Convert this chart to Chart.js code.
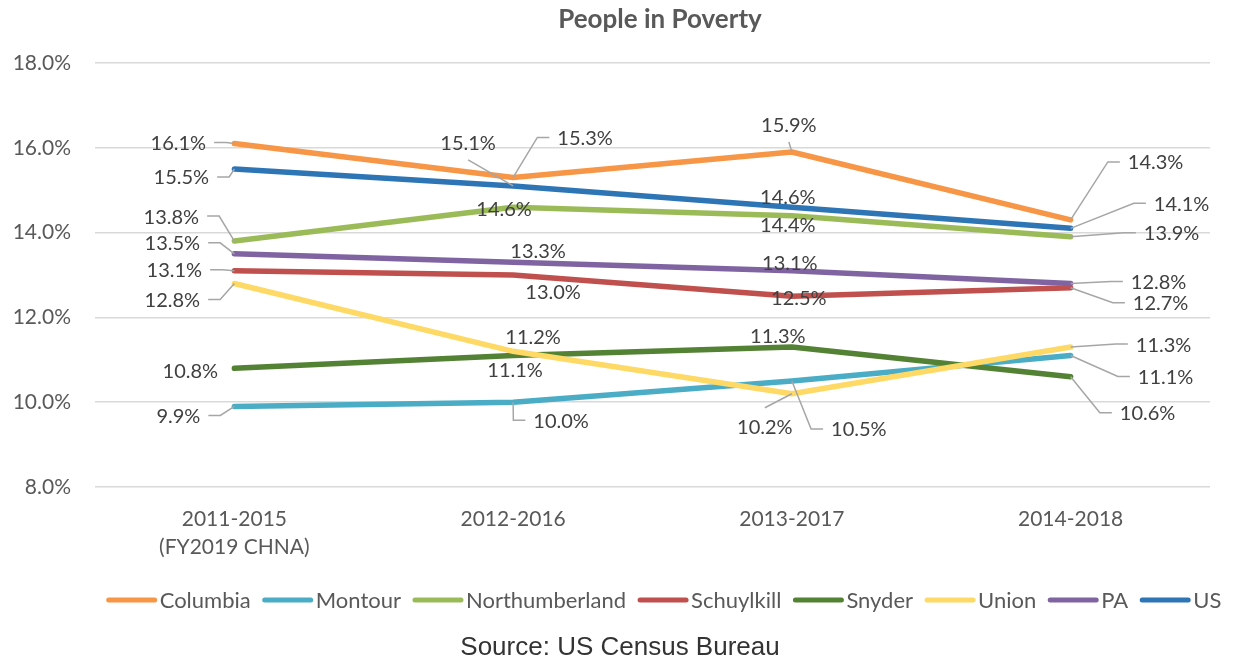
<!DOCTYPE html>
<html>
<head>
<meta charset="utf-8">
<script src="https://cdn.jsdelivr.net/npm/chart.js@4/dist/chart.umd.min.js"></script>
<style>
  html, body { margin: 0; padding: 0; background: #ffffff; }
  #wrap { width: 1233px; height: 665px; position: relative; }
</style>
</head>
<body>
<div id="wrap"><canvas id="c" width="1233" height="665"></canvas></div>
<script>
// ---- data ----
const categories = [['2011-2015', '(FY2019 CHNA)'], '2012-2016', '2013-2017', '2014-2018'];
const seriesNames = ['Columbia', 'Montour', 'Northumberland', 'Schuylkill', 'Snyder', 'Union', 'PA', 'US'];
const columbia = [16.1, 15.3, 15.9, 14.3];
const montour = [9.9, 10.0, 10.5, 11.1];
const northumberland = [13.8, 14.6, 14.4, 13.9];
const schuylkill = [13.1, 13.0, 12.5, 12.7];
const snyder = [10.8, 11.1, 11.3, 10.6];
const union = [12.8, 11.2, 10.2, 11.3];
const pa = [13.5, 13.3, 13.1, 12.8];
const us = [15.5, 15.1, 14.6, 14.1];
const yMin = 8, yMax = 18, yStep = 2;
const chartTitle = 'People in Poverty';
const sourceText = 'Source: US Census Bureau';

// ---- styles ----
const seriesValues = [columbia, montour, northumberland, schuylkill, snyder, union, pa, us];
const seriesColors = ['#F79646', '#4BACC6', '#9BBB59', '#C0504D', '#548235', '#FFD966', '#8064A2', '#2E75B6'];
// label placement: [dx, dy, leader] relative to point; leader: 'h' elbow, 'v' vertical, '' none
const labelLayout = [
  [[-56, -1, 'h'], [72, -40, 'h'], [-3, -27, 'v'], [85, -58, 'h']],
  [[-56, 9, 'h'], [48, 18, 'h'], [67, 48, 'h'], [95, 21, 'h']],
  [[-63, -25, 'h'], [-9, 1, ''], [-4, 9, ''], [101, -4, 'h']],
  [[-60, -1, 'h'], [40, 17, ''], [7, 1, ''], [90, 15, 'h']],
  [[-44, 2, ''], [2, 14, ''], [-14, -12, ''], [77, 36, 'h']],
  [[-62, 16, 'h'], [20, -15, ''], [-27, 33, 'v'], [93, -3, 'h']],
  [[-62, -11, 'h'], [25, -12, ''], [-2, -8, ''], [88, -2, 'h']],
  [[-53, 8, 'h'], [-45, -43, 'v'], [-4, -11, ''], [111, -25, 'h']]
];
const FONT = 'Lato';
const TEXT = '#595959';

const datasets = seriesNames.map((name, i) => ({
  label: name,
  data: seriesValues[i],
  borderColor: seriesColors[i],
  backgroundColor: seriesColors[i],
  borderWidth: 5.5,
  pointRadius: 0,
  pointHoverRadius: 0,
  tension: 0,
  borderCapStyle: 'round',
  borderJoinStyle: 'round',
  fill: false,
  order: seriesNames.length - i
}));

const labelPlugin = {
  id: 'labels',
  afterDatasetsDraw(chart) {
    const ctx = chart.ctx;
    ctx.save();
    ctx.font = '20px ' + FONT;
    ctx.textAlign = 'center';
    ctx.textBaseline = 'middle';
    chart.data.datasets.forEach((ds, i) => {
      const meta = chart.getDatasetMeta(i);
      meta.data.forEach((pt, j) => {
        const lay = labelLayout[i][j];
        const px = pt.x, py = pt.y;
        const lx = px + lay[0], ly = py + lay[1];
        const txt = ds.data[j].toFixed(1) + '%';
        const w = ctx.measureText(txt).width;
        if (lay[2]) {
          ctx.strokeStyle = '#A6A6A6';
          ctx.lineWidth = 1.5;
          ctx.beginPath();
          if (lay[2] === 'h') {
            const dir = lay[0] < 0 ? 1 : -1;
            const sx = lx + dir * (w / 2 + 8);
            const ex = sx + dir * 12;
            ctx.moveTo(sx, ly);
            ctx.lineTo(ex, ly);
            ctx.lineTo(px, py);
          } else {
            const sy = lay[1] < 0 ? ly + 17 : ly - 19;
            ctx.moveTo(lx, sy);
            ctx.lineTo(px, py);
          }
          ctx.stroke();
        }
        ctx.fillStyle = '#404040';
        ctx.fillText(txt, lx, ly + 1);
      });
    });
    ctx.restore();
  },
  afterDraw(chart) {
    const ctx = chart.ctx;
    ctx.save();
    // title
    ctx.font = 'bold 26px ' + FONT;
    ctx.fillStyle = TEXT;
    ctx.textAlign = 'center';
    ctx.textBaseline = 'middle';
    ctx.fillText(chartTitle, 660, 20);
    // legend
    ctx.font = '22px ' + FONT;
    const lineLen = 50, gapText = 3, gapItem = 12;
    const widths = chart.data.datasets.map(d => ctx.measureText(d.label).width);
    let total = 0;
    widths.forEach(w => total += lineLen + gapText + w + gapItem);
    total -= gapItem;
    let x = 664 - total / 2;
    const y = 600;
    ctx.textAlign = 'left';
    chart.data.datasets.forEach((d, i) => {
      ctx.strokeStyle = d.borderColor;
      ctx.lineWidth = 5;
      ctx.lineCap = 'round';
      ctx.beginPath();
      ctx.moveTo(x + 2, y);
      ctx.lineTo(x + lineLen - 2, y);
      ctx.stroke();
      ctx.fillStyle = TEXT;
      ctx.fillText(d.label, x + lineLen + gapText, y + 1);
      x += lineLen + gapText + widths[i] + gapItem;
    });
    // source
    ctx.font = '26px "Liberation Sans"';
    ctx.fillStyle = '#333333';
    ctx.textAlign = 'center';
    ctx.fillText(sourceText, 620, 648);
    ctx.restore();
  }
};

new Chart(document.getElementById('c'), {
  type: 'line',
  data: { labels: categories, datasets },
  plugins: [labelPlugin],
  options: {
    responsive: false,
    animation: false,
    devicePixelRatio: 1,
    layout: { padding: { top: 63, right: 23, bottom: 0, left: 0 } },
    plugins: { legend: { display: false }, title: { display: false }, tooltip: { enabled: false } },
    scales: {
      x: {
        offset: true,
        grid: { display: false, drawTicks: false },
        border: { display: false },
        ticks: { color: TEXT, font: { family: FONT, size: 21, lineHeight: 1.35 }, padding: 18, maxRotation: 0, autoSkip: false },
        afterFit(scale) { scale.height = 178; }
      },
      y: {
        min: yMin, max: yMax,
        grid: { color: '#D9D9D9', lineWidth: 1.5, drawTicks: false },
        border: { display: false },
        ticks: {
          stepSize: yStep, color: TEXT, padding: 24,
          font: { family: FONT, size: 21 },
          callback: v => v.toFixed(1) + '%'
        },
        afterFit(scale) { scale.width = 95; }
      }
    }
  }
});
</script>
</body>
</html>
